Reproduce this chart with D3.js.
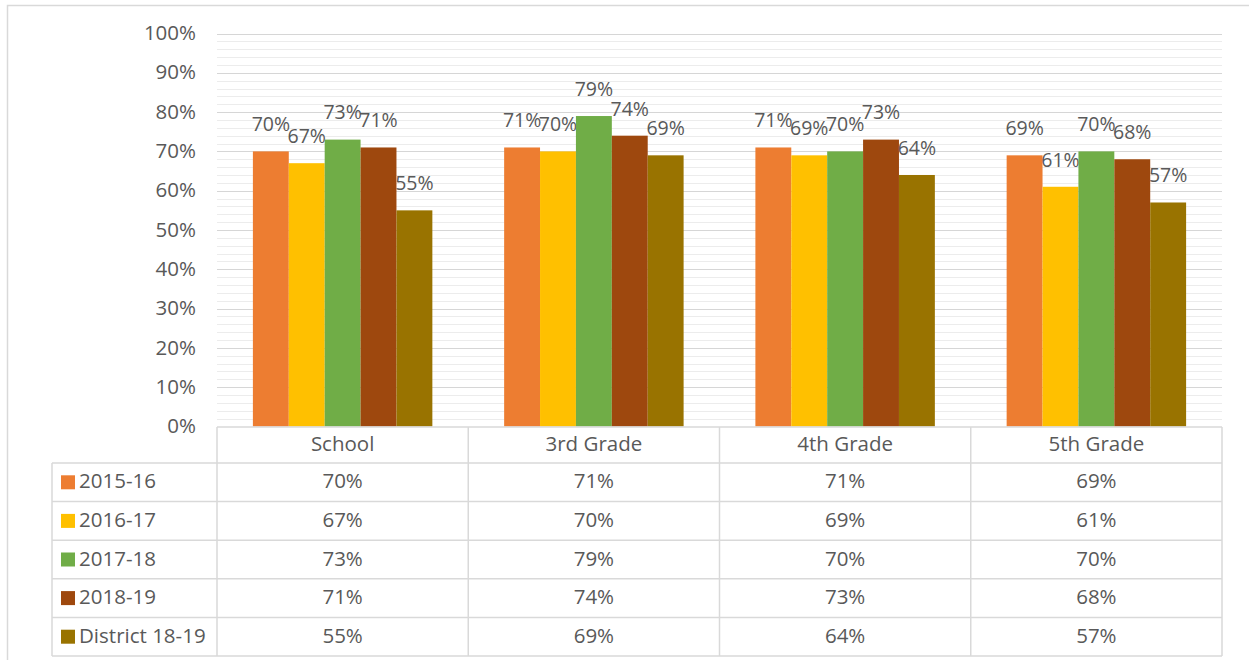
<!DOCTYPE html>
<html><head><meta charset="utf-8">
<script src="https://cdn.jsdelivr.net/npm/d3@7"></script>
<style>
html,body{margin:0;padding:0;background:#fff;}
svg{display:block;}
text{font-family:"Open Sans","Liberation Sans",sans-serif;}
</style></head>
<body><svg id="c" width="1249" height="660"></svg>
<script>
const categories = ["School", "3rd Grade", "4th Grade", "5th Grade"];
const seriesNames = ["2015-16", "2016-17", "2017-18", "2018-19", "District 18-19"];
const s2015 = [70, 71, 71, 69];
const s2016 = [67, 70, 69, 61];
const s2017 = [73, 79, 70, 70];
const s2018 = [71, 74, 73, 68];
const sDistrict = [55, 69, 64, 57];
const seriesColors = ["#ED7D31", "#FFC000", "#70AD47", "#9E480E", "#997300"];
const yTicks = [0, 10, 20, 30, 40, 50, 60, 70, 80, 90, 100];
const minorTicks = d3.range(0, 101, 2);

const seriesValues = [s2015, s2016, s2017, s2018, sDistrict];
const svg = d3.select("#c");
const textColor = "#595959";
const fs = 20.5;
const fsLabel = 19.5;

// outer chart border
svg.append("path").attr("d","M7.5,660 L7.5,5.5 L1249,5.5").attr("fill","none").attr("stroke","#d9d9d9").attr("stroke-width",1.5);

const plotL = 217, plotR = 1222, y0 = 426.5, y100 = 33.5;
const x = d3.scaleBand().domain(categories).range([plotL, plotR]).paddingInner(0).paddingOuter(0);
const xs = d3.scaleBand().domain(seriesNames).range([0, x.bandwidth()]).paddingInner(0).paddingOuter(1);
const y = d3.scaleLinear().domain([0, 100]).range([y0, y100]);

// minor gridlines
svg.append("g").selectAll("line").data(minorTicks.filter(d => d % 10 !== 0)).join("line")
  .attr("x1", plotL).attr("x2", plotR)
  .attr("y1", d => Math.round(y(d)) + 0.5).attr("y2", d => Math.round(y(d)) + 0.5)
  .attr("stroke", "#ececec").attr("stroke-width", 1);
// major gridlines
svg.append("g").selectAll("line").data(yTicks.filter(d => d > 0)).join("line")
  .attr("x1", plotL).attr("x2", plotR)
  .attr("y1", d => Math.round(y(d)) + 0.5).attr("y2", d => Math.round(y(d)) + 0.5)
  .attr("stroke", "#d6d6d6").attr("stroke-width", 1.2);

// y axis labels
const yAxis = d3.axisLeft(y).tickValues(yTicks).tickFormat(d => d + "%").tickSize(0).tickPadding(0);
const ya = svg.append("g").attr("transform", "translate(196,0)").call(yAxis);
ya.select(".domain").remove();
ya.selectAll("text").attr("font-size", fs).attr("fill", textColor)
  .style("font-family", '"Open Sans","Liberation Sans",sans-serif').attr("dy", "0.3em");

// bars
const groups = svg.append("g").selectAll("g").data(seriesNames).join("g");
groups.each(function(name, si) {
  const g = d3.select(this);
  const vals = seriesValues[si];
  g.selectAll("rect").data(categories).join("rect")
    .attr("x", (c) => x(c) + xs(name))
    .attr("width", xs.bandwidth())
    .attr("y", (c, i) => y(vals[i]))
    .attr("height", (c, i) => y0 - y(vals[i]))
    .attr("fill", seriesColors[si]);
  g.selectAll("text").data(categories).join("text")
    .attr("x", (c) => x(c) + xs(name) + xs.bandwidth() / 2)
    .attr("y", (c, i) => y(vals[i]) - 26)
    .attr("dy", "0.3em")
    .attr("text-anchor", "middle")
    .attr("font-size", fsLabel).attr("fill", textColor)
    .text((c, i) => vals[i] + "%");
});

// data table
const tableTop = 427, headerH = 36, rowH = 38.6, legL = 52;
const rowY = i => tableTop + headerH + i * rowH;
const tableBottom = rowY(seriesNames.length);
const lineColor = "#d9d9d9";
const tg = svg.append("g");
tg.append("line").attr("x1", plotL).attr("x2", plotR).attr("y1", tableTop).attr("y2", tableTop)
  .attr("stroke", lineColor).attr("stroke-width", 1.5);
d3.range(seriesNames.length + 1).forEach(i => {
  tg.append("line").attr("x1", legL).attr("x2", plotR).attr("y1", rowY(i)).attr("y2", rowY(i))
    .attr("stroke", lineColor).attr("stroke-width", 1.5);
});
tg.append("line").attr("x1", legL).attr("x2", legL).attr("y1", rowY(0)).attr("y2", tableBottom)
  .attr("stroke", lineColor).attr("stroke-width", 1.5);
const vx = categories.map(c => x(c)).concat([plotR]);
vx.forEach(v => {
  tg.append("line").attr("x1", v).attr("x2", v).attr("y1", tableTop).attr("y2", tableBottom)
    .attr("stroke", lineColor).attr("stroke-width", 1.5);
});
tg.selectAll("text.hdr").data(categories).join("text").attr("class", "hdr")
  .attr("x", c => x(c) + x.bandwidth() / 2).attr("y", tableTop + headerH / 2)
  .attr("dy", "0.3em").attr("text-anchor", "middle")
  .attr("font-size", fs).attr("fill", textColor).text(c => c);
seriesNames.forEach((name, si) => {
  const cy = rowY(si) + rowH / 2;
  tg.append("rect").attr("x", 61).attr("y", cy - 7).attr("width", 14).attr("height", 14).attr("fill", seriesColors[si]);
  tg.append("text").attr("x", 79).attr("y", cy).attr("dy", "0.3em")
    .attr("font-size", fs).attr("fill", textColor).text(name);
  tg.selectAll("text.v" + si).data(categories).join("text").attr("class", "v" + si)
    .attr("x", c => x(c) + x.bandwidth() / 2).attr("y", cy).attr("dy", "0.3em")
    .attr("text-anchor", "middle").attr("font-size", fs).attr("fill", textColor)
    .text((c, i) => seriesValues[si][i] + "%");
});
</script></body></html>
